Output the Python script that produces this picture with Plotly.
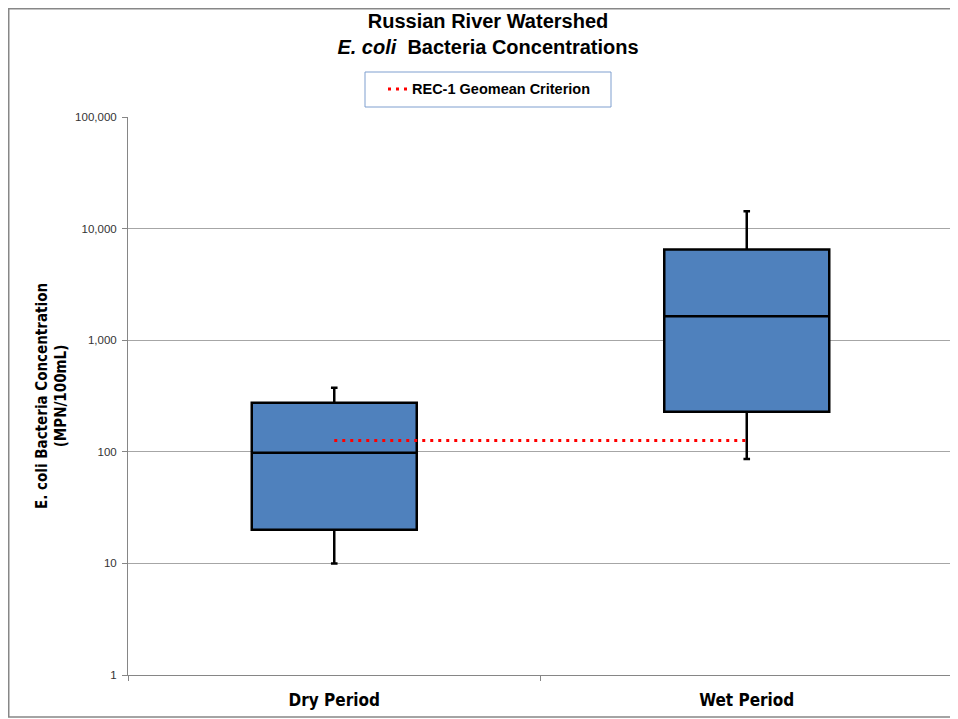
import plotly.graph_objects as go

categories = ["Dry Period", "Wet Period"]
whisker_low = [10, 86]
q1 = [20, 228]
median = [98, 1640]
q3 = [275, 6500]
whisker_high = [375, 14300]
criterion = [126, 126]
tick_vals = [1, 10, 100, 1000, 10000, 100000]
tick_text = ["1", "10", "100", "1,000", "10,000", "100,000"]
legend_label = "REC-1 Geomean Criterion"

fig = go.Figure()
fig.add_trace(go.Box(
    x=categories, q1=q1, median=median, q3=q3,
    lowerfence=whisker_low, upperfence=whisker_high,
    fillcolor="#4F81BD", line=dict(color="#000000", width=2.5),
    whiskerwidth=0.04, showlegend=False, hoverinfo="skip",
))
fig.add_trace(go.Scatter(
    x=categories, y=criterion, mode="lines", name=legend_label,
    line=dict(color="#FF0000", width=3, dash="3px,5px"), showlegend=False,
))

W, H = 950, 711
L, R, T, B = 120, 5, 109, 44
pw, ph = W - L - R, H - T - B


def px(fx):
    return (fx - L) / pw


def py(fy):
    return (H - B - fy) / ph


fig.update_layout(
    width=W, height=H,
    margin=dict(l=L, r=R, t=T, b=B),
    paper_bgcolor="white", plot_bgcolor="white",
    boxgap=0.6, boxgroupgap=0,
    title=dict(
        text="<b>Russian River Watershed</b><br><b><i>E. coli</i>  Bacteria Concentrations</b>",
        x=480 / W, xanchor="center", y=1 - 20 / H, yanchor="top",
        font=dict(family="Liberation Sans", size=20, color="#000000"),
    ),
    showlegend=False,
    font=dict(family="Liberation Sans"),
)

fig.update_yaxes(
    type="log", range=[0, 5], tickvals=tick_vals, ticktext=tick_text,
    showgrid=True, gridcolor="#A6A6A6", gridwidth=1,
    showline=True, linecolor="#868686", linewidth=1,
    ticks="outside", ticklen=5, tickcolor="#868686", ticklabelstandoff=3,
    tickfont=dict(family="Liberation Sans", size=11.5, color="#333333"),
    title=dict(text="<b>E. coli Bacteria Concentration<br>(MPN/100mL)</b>",
               font=dict(family="DejaVu Sans Condensed", size=15, color="#000000"),
               standoff=4),
    zeroline=False,
)
fig.update_xaxes(
    type="category", showline=True, linecolor="#868686", linewidth=1,
    ticks="outside", ticklen=5, tickcolor="#868686", tickson="boundaries",
    ticklabelstandoff=10,
    tickfont=dict(family="DejaVu Sans Condensed", size=17, color="#000000"),
    showgrid=False, range=[-0.5, 1.5],
    tickvals=categories, ticktext=["<b>" + c + "</b>" for c in categories],
)

# chart frame
fig.add_shape(type="rect", xref="paper", yref="paper",
              x0=px(0.75), x1=px(948), y0=py(709), y1=py(0.75),
              line=dict(color="#878787", width=1.5), fillcolor="rgba(0,0,0,0)", layer="below")
# legend box
fig.add_shape(type="rect", xref="paper", yref="paper",
              x0=px(357), x1=px(603), y0=py(99), y1=py(64),
              line=dict(color="#7F9FCF", width=1), fillcolor="white")
fig.add_shape(type="line", xref="paper", yref="paper",
              x0=px(380), x1=px(399), y0=py(81), y1=py(81),
              line=dict(color="#FF0000", width=3, dash="3px,5px"))
fig.add_annotation(xref="paper", yref="paper", x=px(402), y=py(81),
                   xanchor="left", yanchor="middle", showarrow=False,
                   text="<b>" + legend_label + "</b>",
                   font=dict(family="Liberation Sans", size=14.5, color="#000000"))

fig.write_html("out.html")
